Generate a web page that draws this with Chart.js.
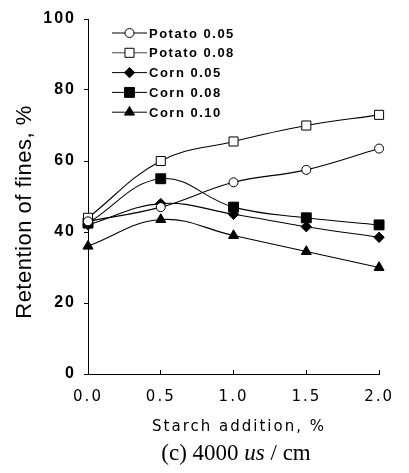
<!DOCTYPE html>
<html>
<head>
<meta charset="utf-8">
<script src="https://cdn.jsdelivr.net/npm/chart.js@4/dist/chart.umd.min.js"></script>
<style>
  html, body { margin: 0; padding: 0; background: #fff; }
  #wrap { width: 409px; height: 473px; }
</style>
</head>
<body>
<div id="wrap"><canvas id="c" width="409" height="473"></canvas></div>
<script>
// Starch addition levels (%) on the x axis
const starchAddition = [0.0, 0.5, 1.0, 1.5, 2.0];

// Retention of fines (%) for each starch type / dosage
const potato005 = [43, 47, 54, 57.5, 63.5];
const potato008 = [44, 60, 65.5, 70, 73];
const corn005   = [42, 48, 45, 41.5, 38.5];
const corn008   = [42.5, 55, 47, 44, 42];
const corn010   = [36, 43.5, 39, 34.5, 30];

const seriesNames = ['Potato 0.05', 'Potato 0.08', 'Corn 0.05', 'Corn 0.08', 'Corn 0.10'];
const yTickValues = [0, 20, 40, 60, 80, 100];
const xTickValues = [0.0, 0.5, 1.0, 1.5, 2.0];

const yTitle = 'Retention of fines, %';
const xTitle = 'Starch addition, %';

const toPoints = vals => starchAddition.map((x, i) => ({ x: x, y: vals[i] }));

const markerStyles = [
  { pointStyle: 'circle',   radius: 4.5, fill: '#fff' },
  { pointStyle: 'rect',     radius: 6.4, fill: '#fff' },
  { pointStyle: 'rectRot',  radius: 5.2, fill: '#000' },
  { pointStyle: 'rect',     radius: 7.0, fill: '#000' },
  { pointStyle: 'triangle', radius: 5.8, fill: '#000' }
];

const seriesValues = [potato005, potato008, corn005, corn008, corn010];

const datasets = seriesValues.map((vals, i) => ({
  label: seriesNames[i],
  data: toPoints(vals),
  borderColor: '#000',
  borderWidth: 1.1,
  tension: 0.4,
  pointStyle: markerStyles[i].pointStyle,
  pointRadius: markerStyles[i].radius,
  pointBackgroundColor: markerStyles[i].fill,
  pointBorderColor: '#000',
  pointBorderWidth: 1,
  clip: false
}));

// spaced-out lettering for the axis tick labels
const tickSpacing = {
  id: 'tickSpacing',
  beforeDraw(chart) { chart.ctx.letterSpacing = '2px'; },
  beforeDatasetsDraw(chart) { chart.ctx.letterSpacing = '0px'; }
};

// axis titles, caption and the in-plot legend
const annotations = {
  id: 'annotations',
  afterDraw(chart) {
    const ctx = chart.ctx;
    ctx.save();
    ctx.fillStyle = '#000';
    ctx.strokeStyle = '#000';

    // y axis title
    ctx.save();
    ctx.translate(31, 212);
    ctx.rotate(-Math.PI / 2);
    ctx.font = '22px "Liberation Sans", Arial, sans-serif';
    ctx.letterSpacing = '0.5px';
    ctx.textAlign = 'center';
    ctx.textBaseline = 'alphabetic';
    ctx.fillText(yTitle, 0, 0);
    ctx.restore();

    // x axis title
    ctx.save();
    ctx.font = '15px "DejaVu Sans", sans-serif';
    ctx.letterSpacing = '2px';
    ctx.textAlign = 'center';
    ctx.textBaseline = 'alphabetic';
    ctx.fillText(xTitle, 239, 431);
    ctx.restore();

    // caption: (c) 4000 us / cm
    ctx.save();
    ctx.letterSpacing = '0px';
    ctx.textBaseline = 'alphabetic';
    ctx.textAlign = 'left';
    const parts = [
      { t: '(c) 4000 ', f: '23px "Liberation Serif", "Times New Roman", serif' },
      { t: 'us', f: 'italic 23px "Liberation Serif", "Times New Roman", serif' },
      { t: ' / cm', f: '23px "Liberation Serif", "Times New Roman", serif' }
    ];
    let total = 0;
    parts.forEach(p => { ctx.font = p.f; p.w = ctx.measureText(p.t).width; total += p.w; });
    let cx = 236 - total / 2;
    parts.forEach(p => { ctx.font = p.f; ctx.fillText(p.t, cx, 460); cx += p.w; });
    ctx.restore();

    // legend
    ctx.save();
    ctx.font = 'bold 13px "Liberation Sans", Arial, sans-serif';
    ctx.letterSpacing = '1.5px';
    ctx.textAlign = 'left';
    ctx.textBaseline = 'middle';
    chart.data.datasets.forEach((ds, i) => {
      const y = 33 + i * 19.8;
      ctx.beginPath();
      ctx.lineWidth = 1;
      ctx.strokeStyle = i === 1 ? '#444' : '#000';
      ctx.moveTo(112, y);
      ctx.lineTo(147, y);
      ctx.stroke();
      ctx.fillStyle = ds.pointBackgroundColor;
      ctx.strokeStyle = '#000';
      ctx.lineWidth = 1;
      Chart.helpers.drawPoint(ctx, {
        pointStyle: ds.pointStyle, radius: ds.pointRadius, rotation: 0, borderWidth: 1
      }, 129.5, y);
      ctx.fillStyle = '#000';
      ctx.fillText(ds.label, 149, y + 1);
    });
    ctx.restore();

    ctx.restore();
  }
};

new Chart(document.getElementById('c'), {
  type: 'line',
  data: { datasets: datasets },
  options: {
    responsive: false,
    animation: false,
    layout: { padding: { top: 19, right: 16, bottom: 0, left: 0 } },
    plugins: {
      legend: { display: false },
      tooltip: { enabled: false },
      title: { display: false }
    },
    scales: {
      x: {
        type: 'linear',
        min: 0,
        max: 2,
        afterBuildTicks: scale => { scale.ticks = xTickValues.map(v => ({ value: v })); },
        afterFit: scale => { scale.height = 99; },
        grid: { display: true, drawOnChartArea: false, drawTicks: true, tickLength: -4, color: '#000', lineWidth: 1 },
        border: { display: true, color: '#000', width: 1 },
        ticks: {
          color: '#000',
          padding: 18,
          maxRotation: 0,
          font: { family: '"DejaVu Sans", sans-serif', size: 15 },
          callback: v => Number(v).toFixed(1)
        }
      },
      y: {
        type: 'linear',
        min: 0,
        max: 100,
        afterBuildTicks: scale => { scale.ticks = yTickValues.map(v => ({ value: v })); },
        afterFit: scale => { scale.width = 88; },
        grid: { display: true, drawOnChartArea: false, drawTicks: true, tickLength: 4, color: '#000', lineWidth: 1 },
        border: { display: true, color: '#000', width: 1 },
        ticks: {
          color: '#000',
          padding: 8,
          font: { family: '"Liberation Sans", Arial, sans-serif', size: 16, weight: 'bold' },
          callback: v => String(v)
        }
      }
    }
  },
  plugins: [tickSpacing, annotations]
});
</script>
</body>
</html>
